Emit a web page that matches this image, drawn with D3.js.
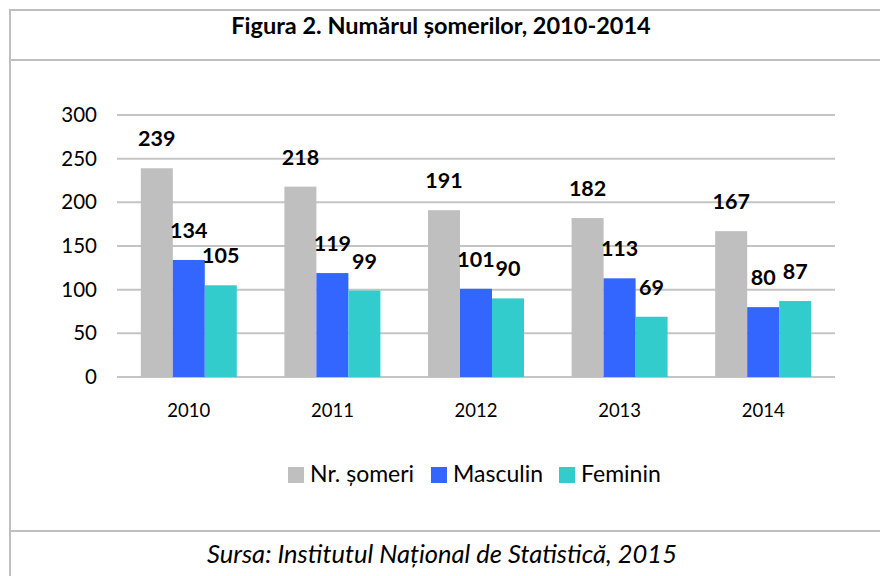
<!DOCTYPE html>
<html lang="ro">
<head>
    <meta charset="UTF-8"/>
    <title>Numărul șomerilor, 2010-2014</title>
    <script src="https://d3js.org/d3.v7.min.js"></script>
    <style>
        body { margin: 0; background: #fff; }
        svg { display: block; font-family: Lato, "Open Sans", sans-serif; }
    </style>
</head>
<body>
<script>
    var w = 880;
    var h = 576;

    var years = ["2010", "2011", "2012", "2013", "2014"];
    var seriesNames = ["Nr. șomeri", "Masculin", "Feminin"];
    var total = [239, 218, 191, 182, 167];
    var masculin = [134, 119, 101, 113, 80];
    var feminin = [105, 99, 90, 69, 87];
    var yTicks = [0, 50, 100, 150, 200, 250, 300];
    var colors = ["#bfbfbf", "#3366ff", "#33cccc"];

    var series = [total, masculin, feminin];

    var plotLeft = 117, plotRight = 835;
    var plotTop = 115, plotBottom = 377;

    var svg = d3.select("body")
                .append("svg")
                .attr("width", w)
                .attr("height", h);

    // frame around the figure (runs off the right and bottom edges)
    var frame = svg.append("g")
                   .attr("stroke", "#bfbfbf")
                   .attr("stroke-width", 2)
                   .attr("fill", "none");
    frame.append("rect").attr("x", 10).attr("y", 10).attr("width", 900).attr("height", 600);
    frame.append("line").attr("x1", 10).attr("x2", 880).attr("y1", 60).attr("y2", 60);
    frame.append("line").attr("x1", 10).attr("x2", 880).attr("y1", 531).attr("y2", 531);

    svg.append("text")
       .attr("x", 441)
       .attr("y", 34)
       .attr("text-anchor", "middle")
       .attr("font-weight", "bold")
       .attr("font-size", 23.5)
       .text("Figura 2. Numărul șomerilor, 2010-2014");

    svg.append("text")
       .attr("x", 442)
       .attr("y", 563)
       .attr("text-anchor", "middle")
       .attr("font-style", "italic")
       .attr("font-size", 25.5)
       .text("Sursa: Institutul Național de Statistică, 2015");

    var xScale = d3.scaleBand()
                   .domain(years)
                   .range([plotLeft, plotRight]);

    var barW = 32;
    var xSub = d3.scaleBand()
                 .domain(d3.range(series.length))
                 .range([0, barW * series.length]);

    var yScale = d3.scaleLinear()
                   .domain([0, 300])
                   .range([plotBottom, plotTop]);

    // gridlines
    svg.selectAll("line.grid")
       .data(yTicks)
       .enter()
       .append("line")
       .attr("class", "grid")
       .attr("x1", plotLeft)
       .attr("x2", plotRight)
       .attr("y1", function(d) { return yScale(d); })
       .attr("y2", function(d) { return yScale(d); })
       .attr("stroke", "#c4c4c4")
       .attr("stroke-width", 2);

    // y axis labels
    var yAxis = d3.axisLeft(yScale).tickValues(yTicks).tickSize(0).tickPadding(20);
    var ya = svg.append("g")
                .attr("transform", "translate(" + plotLeft + ",0)")
                .call(yAxis);
    ya.select(".domain").remove();
    ya.selectAll("text")
      .attr("font-family", "Lato, sans-serif")
      .attr("font-size", 20.5)
      .attr("fill", "#000");

    // x axis labels
    var xAxis = d3.axisBottom(xScale).tickSize(0).tickPadding(27);
    var xa = svg.append("g")
                .attr("transform", "translate(0," + plotBottom + ")")
                .call(xAxis);
    xa.select(".domain").remove();
    xa.selectAll("text")
      .attr("font-family", "Lato, sans-serif")
      .attr("font-size", 18.5)
      .attr("fill", "#000");

    var groups = svg.selectAll("g.year")
                    .data(years)
                    .enter()
                    .append("g")
                    .attr("class", "year")
                    .attr("transform", function(d) {
                        return "translate(" + (xScale(d) + (xScale.bandwidth() - barW * series.length) / 2) + ",0)";
                    });

    groups.selectAll("rect")
          .data(function(d, i) {
              return series.map(function(s, k) { return {k: k, v: s[i]}; });
          })
          .enter()
          .append("rect")
          .attr("x", function(d) { return xSub(d.k); })
          .attr("y", function(d) { return yScale(d.v); })
          .attr("width", xSub.bandwidth())
          .attr("height", function(d) { return plotBottom - yScale(d.v); })
          .attr("fill", function(d) { return colors[d.k]; });

    groups.selectAll("text.val")
          .data(function(d, i) {
              return series.map(function(s, k) { return {k: k, v: s[i]}; });
          })
          .enter()
          .append("text")
          .attr("class", "val")
          .attr("x", function(d) { return xSub(d.k) + xSub.bandwidth() / 2; })
          .attr("y", function(d) { return yScale(d.v) - 22; })
          .attr("text-anchor", "middle")
          .attr("font-weight", "bold")
          .attr("font-size", 21.5)
          .text(function(d) { return d.v; });

    // legend
    var legendX = [288, 431, 559];
    var legend = svg.selectAll("g.legend")
                    .data(seriesNames)
                    .enter()
                    .append("g")
                    .attr("class", "legend")
                    .attr("transform", function(d, i) { return "translate(" + legendX[i] + ",467)"; });
    legend.append("rect")
          .attr("width", 16)
          .attr("height", 16)
          .attr("fill", function(d, i) { return colors[i]; });
    legend.append("text")
          .attr("x", 22)
          .attr("y", 15)
          .attr("font-size", 23)
          .text(function(d) { return d; });
</script>
</body>
</html>
